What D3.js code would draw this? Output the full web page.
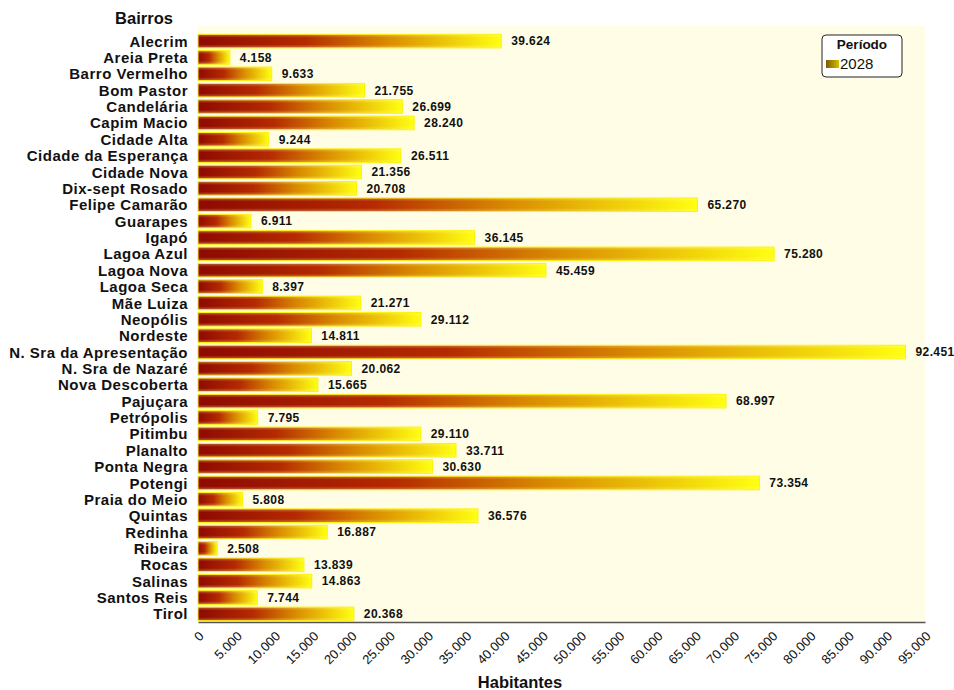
<!DOCTYPE html>
<html>
<head>
<meta charset="utf-8">
<script src="https://cdn.jsdelivr.net/npm/d3@7"></script>
<style>
  html, body { margin: 0; padding: 0; background: #ffffff; }
  svg { display: block; }
  text { font-family: "Liberation Sans", Arial, sans-serif; }
</style>
</head>
<body>
<svg id="chart" width="954" height="690"></svg>
<script>
// Bairros de Natal — população projetada para 2028
const bairros = [
  "Alecrim", "Areia Preta", "Barro Vermelho", "Bom Pastor", "Candelária",
  "Capim Macio", "Cidade Alta", "Cidade da Esperança", "Cidade Nova",
  "Dix-sept Rosado", "Felipe Camarão", "Guarapes", "Igapó", "Lagoa Azul",
  "Lagoa Nova", "Lagoa Seca", "Mãe Luiza", "Neopólis", "Nordeste",
  "N. Sra da Apresentação", "N. Sra de Nazaré", "Nova Descoberta",
  "Pajuçara", "Petrópolis", "Pitimbu", "Planalto", "Ponta Negra", "Potengi",
  "Praia do Meio", "Quintas", "Redinha", "Ribeira", "Rocas", "Salinas",
  "Santos Reis", "Tirol"
];

const habitantes2028 = [
  39624, 4158, 9633, 21755, 26699,
  28240, 9244, 26511, 21356,
  20708, 65270, 6911, 36145, 75280,
  45459, 8397, 21271, 29112, 14811,
  92451, 20062, 15665,
  68997, 7795, 29110, 33711, 30630, 73354,
  5808, 36576, 16887, 2508, 13839, 14863,
  7744, 20368
];

const xTicks = [0, 5000, 10000, 15000, 20000, 25000, 30000, 35000, 40000,
  45000, 50000, 55000, 60000, 65000, 70000, 75000, 80000, 85000, 90000, 95000];

const periodo = "2028";

const svg = d3.select("#chart");
const plotLeft = 198, plotRight = 925, plotTop = 33, plotBottom = 622;

// Number format with dot as thousands separator
const fmt = d3.formatLocale({ decimal: ",", thousands: ".", grouping: [3], currency: ["R$", ""] }).format(",d");

const x = d3.scaleLinear().domain([0, 95000]).range([plotLeft, plotRight]);
const y = d3.scaleBand().domain(bairros).range([plotTop, plotBottom]).paddingInner(0.17).paddingOuter(0.08);

// Gradient used for every bar (dark red -> orange -> yellow)
const defs = svg.append("defs");
const grad = defs.append("linearGradient").attr("id", "barGrad")
  .attr("x1", "0%").attr("x2", "100%").attr("y1", "0%").attr("y2", "0%");
grad.append("stop").attr("offset", "0%").attr("stop-color", "#8e0a00");
grad.append("stop").attr("offset", "35%").attr("stop-color", "#b52a00");
grad.append("stop").attr("offset", "62%").attr("stop-color", "#d98a00");
grad.append("stop").attr("offset", "100%").attr("stop-color", "#ffff10");

// Soft vertical shading on top of the bars
const shade = defs.append("linearGradient").attr("id", "barShade")
  .attr("x1", "0%").attr("x2", "0%").attr("y1", "0%").attr("y2", "100%");
shade.append("stop").attr("offset", "0%").attr("stop-color", "#ffff60").attr("stop-opacity", 0.35);
shade.append("stop").attr("offset", "25%").attr("stop-color", "#ffffff").attr("stop-opacity", 0);
shade.append("stop").attr("offset", "75%").attr("stop-color", "#ffffff").attr("stop-opacity", 0);
shade.append("stop").attr("offset", "100%").attr("stop-color", "#ffff60").attr("stop-opacity", 0.35);

// Plot background
svg.append("rect")
  .attr("x", plotLeft).attr("y", 26)
  .attr("width", plotRight - plotLeft).attr("height", plotBottom - 26)
  .attr("fill", "#fffde6");

// Bars
const bars = svg.append("g");
bars.selectAll("rect.bar")
  .data(bairros)
  .join("rect")
  .attr("class", "bar")
  .attr("x", x(0))
  .attr("y", d => y(d))
  .attr("width", (d, i) => x(habitantes2028[i]) - x(0))
  .attr("height", y.bandwidth())
  .attr("fill", "url(#barGrad)")
  .attr("stroke", "#ffee00")
  .attr("stroke-width", 1);
bars.selectAll("rect.shade")
  .data(bairros)
  .join("rect")
  .attr("class", "shade")
  .attr("x", x(0))
  .attr("y", d => y(d))
  .attr("width", (d, i) => x(habitantes2028[i]) - x(0))
  .attr("height", y.bandwidth())
  .attr("fill", "url(#barShade)");

// Value labels
svg.append("g").selectAll("text")
  .data(bairros)
  .join("text")
  .attr("x", (d, i) => x(habitantes2028[i]) + 10)
  .attr("y", d => y(d) + y.bandwidth() / 2)
  .attr("dy", "0.36em")
  .attr("font-size", 12)
  .attr("letter-spacing", 0.4)
  .attr("font-weight", "bold")
  .attr("fill", "#111")
  .text((d, i) => fmt(habitantes2028[i]));

// Category axis labels
svg.append("g").selectAll("text")
  .data(bairros)
  .join("text")
  .attr("x", 188)
  .attr("y", d => y(d) + y.bandwidth() / 2)
  .attr("dy", "0.37em")
  .attr("text-anchor", "end")
  .attr("font-size", 15)
  .attr("letter-spacing", 0.5)
  .attr("font-weight", "bold")
  .attr("fill", "#111")
  .text(d => d);

// Horizontal axis
const xAxis = d3.axisBottom(x).tickValues(xTicks).tickFormat(d => d === 0 ? "0" : fmt(d)).tickSize(0);
const gx = svg.append("g").attr("transform", `translate(0,${plotBottom})`).call(xAxis);
gx.select(".domain").attr("stroke", "#555").attr("stroke-width", 1.5);
gx.selectAll("text")
  .attr("font-family", "Liberation Sans, Arial, sans-serif")
  .attr("font-size", 13)
  .attr("fill", "#111")
  .attr("text-anchor", "end")
  .attr("dy", null)
  .attr("y", 0)
  .attr("transform", "translate(6,15) rotate(-45)");

// Titles
svg.append("text")
  .attr("x", 144).attr("y", 24)
  .attr("text-anchor", "middle")
  .attr("font-size", 16.5).attr("font-weight", "bold").attr("fill", "#111")
  .text("Bairros");
svg.append("text")
  .attr("x", 520).attr("y", 688)
  .attr("text-anchor", "middle")
  .attr("font-size", 16.5).attr("font-weight", "bold").attr("fill", "#111")
  .text("Habitantes");

// Legend
const lg = svg.append("g").attr("transform", "translate(822,35)");
lg.append("rect")
  .attr("width", 80).attr("height", 42).attr("rx", 4)
  .attr("fill", "#ffffff").attr("stroke", "#222").attr("stroke-width", 1);
lg.append("text")
  .attr("x", 40).attr("y", 14)
  .attr("text-anchor", "middle")
  .attr("font-size", 13.5).attr("font-weight", "bold").attr("fill", "#111")
  .text("Período");
const lgGrad = defs.append("linearGradient").attr("id", "legGrad")
  .attr("x1", "0%").attr("x2", "100%");
lgGrad.append("stop").attr("offset", "0%").attr("stop-color", "#7a5a00");
lgGrad.append("stop").attr("offset", "100%").attr("stop-color", "#d8c000");
lg.append("rect")
  .attr("x", 4).attr("y", 25).attr("width", 13).attr("height", 8)
  .attr("fill", "url(#legGrad)");
lg.append("text")
  .attr("x", 18).attr("y", 34)
  .attr("font-size", 15).attr("fill", "#111")
  .text(periodo);
</script>
</body>
</html>
